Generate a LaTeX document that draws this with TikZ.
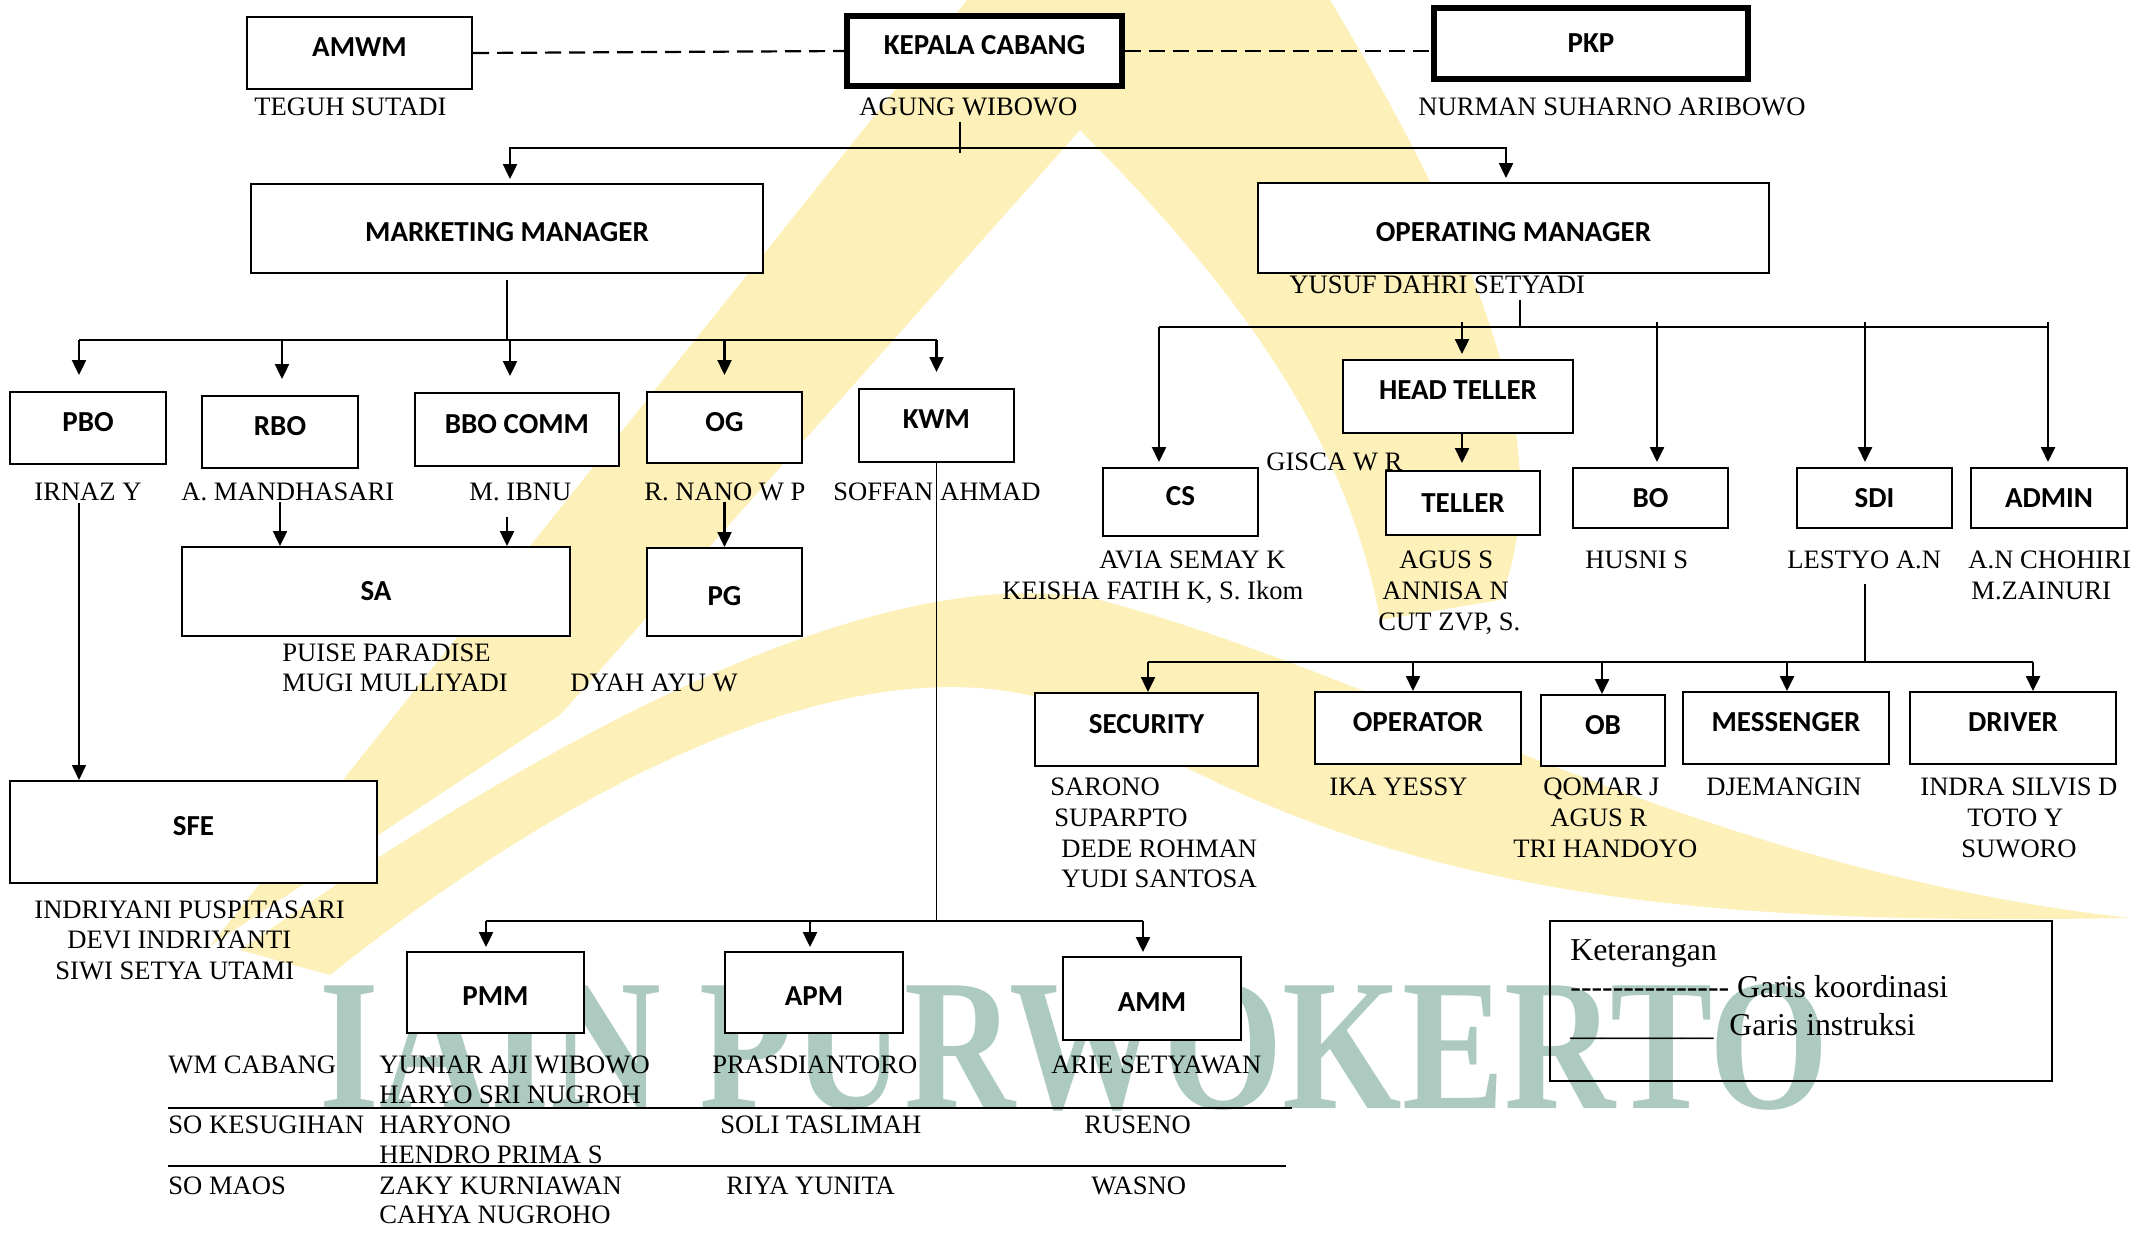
\documentclass[tikz,border=0pt]{standalone}
\usepackage{fontspec}
\setmainfont{Liberation Serif}
\newfontfamily\jabfont{Carlito}
\usetikzlibrary{arrows.meta,calc}
\definecolor{kuning}{RGB}{253,240,184}
\definecolor{hijau}{RGB}{172,202,192}
\newcommand{\putus}{-\kern0pt}

\begin{document}
\begin{tikzpicture}[
    x=0.5pt, y=-0.5pt,
    jab/.style={
        draw=black,
        fill=white,
        line width=1pt,
        inner sep=2pt,
        font=\jabfont\bfseries\fontsize{14.5}{17}\selectfont
    },
    naik/.style={text depth=6pt},
    turun/.style={text height=13.3pt},
    nama/.style={inner sep=0pt, anchor=base west, font=\fontsize{13.3}{15}\selectfont},
    ketf/.style={inner sep=0pt, anchor=base west, font=\fontsize{15.9}{18}\selectfont},
    garis/.style={line width=1.2pt},
    tipis/.style={line width=0.8pt},
    panah/.style={garis, -{Triangle[length=7.5pt,width=7pt]}},
    panah tipis/.style={tipis, -{Triangle[length=7.5pt,width=7pt]}},
    koordinasi/.style={line width=1.1pt, dash pattern=on 8pt off 4pt}
]

\fill[white] (0,0) rectangle (2152,1233);
\useasboundingbox (0,0) rectangle (2152,1233);

% tanda air
\fill[kuning] (967,0) -- (1330,0) .. controls (1480,250) and (1560,450) .. (1500,600)
    -- (1380,620) .. controls (1350,450) and (1250,300) .. (1080,130)
    -- (560,715) -- (210,946) -- cycle;
\fill[kuning] (240,950) .. controls (600,700) and (900,560) .. (1100,600)
    .. controls (1400,680) and (1700,870) .. (2130,918)
    .. controls (1700,925) and (1400,900) .. (1100,720)
    .. controls (900,620) and (600,760) .. (330,975) -- cycle;
\node[inner sep=0pt, text=hijau, font=\bfseries\fontsize{76.8}{80}\selectfont] (wm) at (1074.5,1047.5) {\scalebox{1}[1.22]{IAIN PURWOKERTO}};

% kotak jabatan
\node[jab, naik, minimum width=112.5pt, minimum height=36pt] (amwm) at (359.5,53) {AMWM};
\node[jab, naik, line width=2.75pt, minimum width=137.5pt, minimum height=35pt] (kc) at (984.5,51) {KEPALA CABANG};
\node[jab, line width=2.75pt, minimum width=157pt, minimum height=35.5pt] (pkp) at (1591,43.5) {PKP};
\node[jab, turun, minimum width=256pt, minimum height=44.5pt] (mm) at (507,228.5) {MARKETING MANAGER};
\node[jab, turun, minimum width=255.5pt, minimum height=45pt] (om) at (1513.5,228) {OPERATING MANAGER};

\node[jab, naik, minimum width=78pt, minimum height=36pt] (pbo) at (88,428) {PBO};
\node[jab, naik, minimum width=78pt, minimum height=36pt] (rbo) at (280,432) {RBO};
\node[jab, naik, minimum width=102pt, minimum height=36.5pt] (bbo) at (517,429.5) {BBO COMM};
\node[jab, naik, minimum width=77.5pt, minimum height=35.5pt] (og) at (724.5,427.5) {OG};
\node[jab, naik, minimum width=77.5pt, minimum height=36.5pt] (kwm) at (936.5,425.5) {KWM};
\node[jab, minimum width=194pt, minimum height=44.5pt] (sa) at (376,591.5) {SA};
\node[jab, turun, minimum width=77.5pt, minimum height=44pt] (pg) at (724.5,592) {PG};
\node[jab, naik, minimum width=183.5pt, minimum height=51pt] (sfe) at (193.5,832) {SFE};

\node[jab, naik, minimum width=115pt, minimum height=36.5pt] (ht) at (1458,396.5) {HEAD TELLER};
\node[jab, naik, minimum width=77.5pt, minimum height=34pt] (cs) at (1180.5,502) {CS};
\node[jab, minimum width=77pt, minimum height=32pt] (teller) at (1463,503) {TELLER};
\node[jab, minimum width=77.5pt, minimum height=30pt] (bo) at (1650.5,498) {BO};
\node[jab, minimum width=77.5pt, minimum height=30pt] (sdi) at (1874.5,498) {SDI};
\node[jab, minimum width=78pt, minimum height=30pt] (admin) at (2049,498) {ADMIN};

\node[jab, naik, minimum width=111.5pt, minimum height=36.5pt] (sec) at (1146.5,729.5) {SECURITY};
\node[jab, naik, minimum width=103pt, minimum height=36pt] (opr) at (1418,728) {OPERATOR};
\node[jab, naik, minimum width=62pt, minimum height=35.5pt] (ob) at (1603,730.5) {OB};
\node[jab, naik, minimum width=103pt, minimum height=36pt] (msg) at (1786,728) {MESSENGER};
\node[jab, naik, minimum width=103pt, minimum height=36pt] (drv) at (2013,728) {DRIVER};

\node[jab, turun, minimum width=88.5pt, minimum height=40.5pt] (pmm) at (495.5,992.5) {PMM};
\node[jab, turun, minimum width=89pt, minimum height=40.5pt] (apm) at (814,992.5) {APM};
\node[jab, turun, minimum width=89pt, minimum height=41.5pt] (amm) at (1152,998.5) {AMM};

% nama pejabat
\node[nama] (n-amwm) at (254,115) {TEGUH SUTADI};
\node[nama] (n-kc) at (859,115) {AGUNG WIBOWO};
\node[nama] (n-pkp) at (1418,115) {NURMAN SUHARNO ARIBOWO};
\node[nama] (n-om) at (1289,293) {YUSUF DAHRI SETYADI};
\node[nama] (n-pbo) at (34,500) {IRNAZ Y};
\node[nama] (n-rbo) at (181,500) {A. MANDHASARI};
\node[nama] (n-bbo) at (469,500) {M. IBNU};
\node[nama] (n-og) at (644,500) {R. NANO W P};
\node[nama] (n-kwm) at (833,500) {SOFFAN AHMAD};
\node[nama] (n-sa1) at (282,661) {PUISE PARADISE};
\node[nama] (n-sa2) at (282,691) {MUGI MULLIYADI};
\node[nama] (n-pg) at (570,691) {DYAH AYU W};
\node[nama] (n-sfe1) at (34,918) {INDRIYANI PUSPITASARI};
\node[nama] (n-sfe2) at (67,948) {DEVI INDRIYANTI};
\node[nama] (n-sfe3) at (55,979) {SIWI SETYA UTAMI};
\node[nama] (n-ht) at (1266,470) {GISCA W R};
\node[nama] (n-cs1) at (1099,568) {AVIA SEMAY K};
\node[nama] (n-cs2) at (1002,599) {KEISHA FATIH K, S. Ikom};
\node[nama] (n-tl1) at (1399,568) {AGUS S};
\node[nama] (n-tl2) at (1382,599) {ANNISA N};
\node[nama] (n-tl3) at (1378,630) {CUT ZVP, S.};
\node[nama] (n-bo) at (1585,568) {HUSNI S};
\node[nama] (n-sdi) at (1787,568) {LESTYO A.N};
\node[nama] (n-adm1) at (1968,568) {A.N CHOHIRI};
\node[nama] (n-adm2) at (1971,599) {M.ZAINURI};
\node[nama] (n-sec1) at (1050,795) {SARONO};
\node[nama] (n-sec2) at (1054,826) {SUPARPTO};
\node[nama] (n-sec3) at (1061,857) {DEDE ROHMAN};
\node[nama] (n-sec4) at (1061,887) {YUDI SANTOSA};
\node[nama] (n-opr) at (1329,795) {IKA YESSY};
\node[nama] (n-ob1) at (1543,795) {QOMAR J};
\node[nama] (n-ob2) at (1550,826) {AGUS R};
\node[nama] (n-ob3) at (1513,857) {TRI HANDOYO};
\node[nama] (n-msg) at (1706,795) {DJEMANGIN};
\node[nama] (n-drv1) at (1920,795) {INDRA SILVIS D};
\node[nama] (n-drv2) at (1967,826) {TOTO Y};
\node[nama] (n-drv3) at (1961,857) {SUWORO};

% tabel kantor
\node[nama] (tb-wm) at (168,1073) {WM CABANG};
\node[nama] (tb-wm1) at (379,1073) {YUNIAR AJI WIBOWO};
\node[nama] (tb-wm2) at (379,1103) {HARYO SRI NUGROH};
\node[nama] (tb-wm3) at (712,1073) {PRASDIANTORO};
\node[nama] (tb-wm4) at (1051,1073) {ARIE SETYAWAN};
\node[nama] (tb-sk) at (168,1133) {SO KESUGIHAN};
\node[nama] (tb-sk1) at (379,1133) {HARYONO};
\node[nama] (tb-sk2) at (379,1163) {HENDRO PRIMA S};
\node[nama] (tb-sk3) at (720,1133) {SOLI TASLIMAH};
\node[nama] (tb-sk4) at (1084,1133) {RUSENO};
\node[nama] (tb-sm) at (168,1194) {SO MAOS};
\node[nama] (tb-sm1) at (379,1194) {ZAKY KURNIAWAN};
\node[nama] (tb-sm2) at (379,1223) {CAHYA NUGROHO};
\node[nama] (tb-sm3) at (726,1194) {RIYA YUNITA};
\node[nama] (tb-sm4) at (1091,1194) {WASNO};
\coordinate (r1) at (168,1108);
\coordinate (r2) at (168,1166);
\draw[line width=0.9pt] (r1) -- ++(1124,0);
\draw[line width=0.9pt] (r2) -- ++(1118,0);

% keterangan
\node[draw, line width=1pt, minimum width=251pt, minimum height=80pt] (ket) at (1801,1001) {};
\node[ketf] (k1) at (1570,960) {Keterangan};
\node[ketf] (k2) at (1570,997) {\putus\putus\putus\putus\putus\putus\putus\putus\putus\putus\putus\putus\putus\putus\putus\ Garis koordinasi};
\node[ketf] (k3) at (1570,1035) {\_\_\_\_\_\_\_\_\_\ \ Garis instruksi};

% garis koordinasi
\draw[koordinasi] (amwm.east) -- (kc.west);
\draw[koordinasi] (kc.east) -- (kc.east -| pkp.west);

% garis instruksi
\coordinate (kc-a) at (960,122);
\coordinate (kbus) at (960,148);
\draw[tipis] (kc-a) -- ([yshift=-2.5pt]kbus);
\draw[panah, shorten >=2pt] (kbus) -| ([xshift=1.5pt]mm.north);
\draw[panah, shorten >=2pt] (kbus) -| ([xshift=-3.75pt]om.north);

\coordinate (mbus) at (510,340);
\draw[tipis] (mm.south) ++(0,6) -- (mm.south |- mbus);
\foreach \n/\dx in {pbo/-9, rbo/2, bbo/-7, og/0, kwm/0}{
    \coordinate (p-\n) at ([xshift=\dx*0.5pt]\n.north);
    \draw[panah, shorten >=8pt] (p-\n |- mbus) -- (p-\n);
}
\draw[garis] (p-pbo |- mbus) -- (p-kwm |- mbus);
\draw[panah tipis] (p-pbo |- n-pbo.base) ++(0,3) -- (p-pbo |- sfe.north);
\draw[panah] (rbo.south |- n-rbo.base) ++(0,2) -- (rbo.south |- sa.north);
\draw[panah] (mm.south |- n-bbo.base) ++(0,17) -- (mm.south |- sa.north);
\draw[panah] (og.south |- n-og.base) ++(0,2) -- (pg.north);

\coordinate (wbus) at (939,921);
\draw[tipis] (kwm.south) -- (kwm.south |- wbus);
\foreach \n/\dx in {pmm/-9.5, apm/-4, amm/-9}{
    \coordinate (p-\n) at ([xshift=\dx*0.5pt]\n.north);
    \draw[panah, shorten >=2pt] (p-\n |- wbus) -- (p-\n);
}
\draw[garis] (p-pmm |- wbus) -- (p-amm |- wbus);

\coordinate (obus) at (1520,327);
\draw[tipis] (obus |- n-om.base) ++(0,7) -- (obus);
\foreach \n/\dx/\up in {cs/-21.5/0, ht/4/-5, bo/6.5/-5, sdi/-9.5/-5, admin/-1/-5}{
    \coordinate (p-\n) at ([xshift=\dx*0.5pt]\n.north);
    \draw[panah, shorten >=2.5pt] (p-\n |- obus) ++(0,\up) -- (p-\n);
}
\draw[garis] (p-cs |- obus) -- (p-admin |- obus);
\draw[panah, shorten >=3.5pt] (p-ht |- ht.south) -- (p-ht |- teller.north);

\coordinate (sbus) at (1865,662);
\draw[tipis] (p-sdi |- n-sdi.base) ++(0,16) -- (p-sdi |- sbus);
\foreach \n/\dx in {sec/1.5, opr/-5, ob/-1, msg/1, drv/20}{
    \coordinate (p-\n) at ([xshift=\dx*0.5pt]\n.north);
    \draw[panah] (p-\n |- sbus) -- (p-\n);
}
\draw[garis] (p-sec |- sbus) -- (p-drv |- sbus);

\end{tikzpicture}
\end{document}
